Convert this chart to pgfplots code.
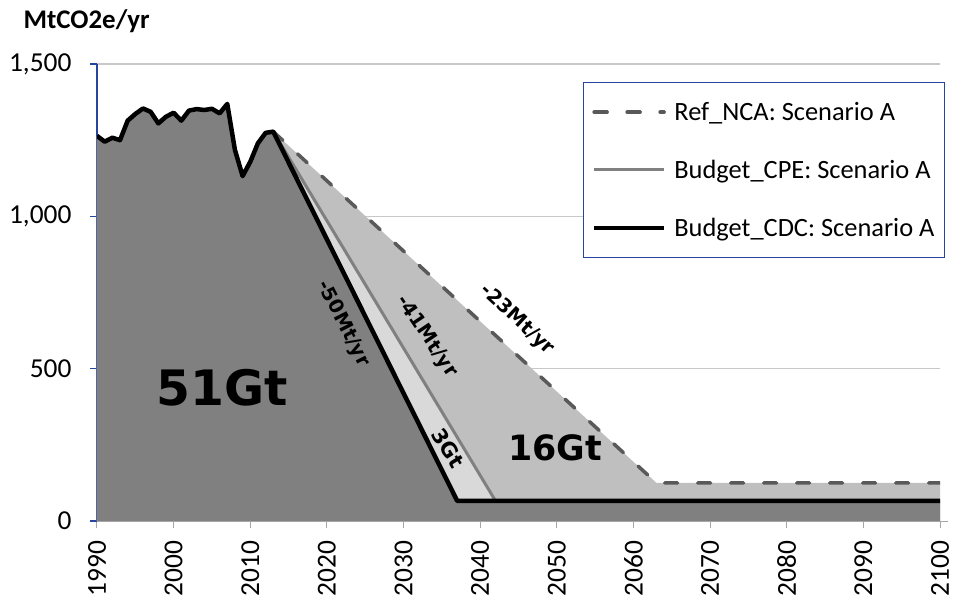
\documentclass[border=0pt]{standalone}
\usepackage{fontspec}
\setmainfont{Carlito}
\newfontfamily\dv{DejaVu Sans}
\usepackage{pgfplots}
\pgfplotsset{compat=1.18}
\definecolor{axblue}{RGB}{38,68,160}
\definecolor{refc}{RGB}{89,89,89}
\definecolor{cpec}{RGB}{128,128,128}
\definecolor{darkf}{RGB}{128,128,128}
\definecolor{lightf}{RGB}{217,217,217}
\definecolor{midf}{RGB}{191,191,191}
\definecolor{gridc}{RGB}{200,200,200}
\begin{document}
\begin{tikzpicture}
\begin{axis}[
 scale only axis, width=843bp, height=457bp,
 xmin=1990, xmax=2100, ymin=0, ymax=1500,
 axis x line*=bottom, axis y line*=left,
 x axis line style={draw=gray!70, line width=1bp, shorten >=-8bp},
 y axis line style={draw=axblue, line width=1.2bp},
 xtick={1990,2000,...,2100}, ytick={0,500,1000,1500},
 tick align=outside, major tick length=7bp,
 xtick style={draw=gray!70, line width=1bp},
 ytick style={draw=axblue, line width=1.2bp},
 ymajorgrids, grid style={draw=gridc, line width=1.2bp},
 tick label style={font=\fontsize{27.5}{32}\selectfont, /pgf/number format/assume math mode=true},
 yticklabel style={xshift=-15bp, /pgf/number format/.cd, 1000 sep={,}},
 xticklabel style={yshift=-9bp, rotate=90, anchor=east, /pgf/number format/1000 sep=},
 legend style={at={(1.006,0.961)}, anchor=north east, draw=axblue, line width=1.2bp, fill=white,
   font=\fontsize{26.5}{30}\selectfont, inner xsep=8bp, inner ysep=18bp, row sep=34bp},
 legend cell align=left,
 legend image code/.code={\draw[#1] (0bp,0bp) -- (70bp,0bp); \path (76bp,0bp);},
]
% fills
\addplot[fill=midf, draw=none, forget plot] coordinates {
(1990,1264) (1991,1245) (1992,1258) (1993,1250) (1994,1314) (1995,1336) (1996,1354) (1997,1343)
(1998,1305) (1999,1327) (2000,1340) (2001,1314) (2002,1347) (2003,1352) (2004,1349) (2005,1353)
(2006,1338) (2007,1369) (2008,1218) (2009,1132) (2010,1179) (2011,1240) (2012,1274) (2013,1278)
(2063,125) (2100,125)} \closedcycle;
\addplot[fill=lightf, draw=none, forget plot] coordinates {
(1990,1264) (1991,1245) (1992,1258) (1993,1250) (1994,1314) (1995,1336) (1996,1354) (1997,1343)
(1998,1305) (1999,1327) (2000,1340) (2001,1314) (2002,1347) (2003,1352) (2004,1349) (2005,1353)
(2006,1338) (2007,1369) (2008,1218) (2009,1132) (2010,1179) (2011,1240) (2012,1274) (2013,1278)
(2042,66) (2100,66)} \closedcycle;
\addplot[fill=darkf, draw=none, forget plot] coordinates {
(1990,1264) (1991,1245) (1992,1258) (1993,1250) (1994,1314) (1995,1336) (1996,1354) (1997,1343)
(1998,1305) (1999,1327) (2000,1340) (2001,1314) (2002,1347) (2003,1352) (2004,1349) (2005,1353)
(2006,1338) (2007,1369) (2008,1218) (2009,1132) (2010,1179) (2011,1240) (2012,1274) (2013,1278)
(2037,66) (2100,66)} \closedcycle;
% lines
\addplot[refc, line width=3.5bp, line cap=round, dash pattern=on 13bp off 20bp] coordinates {
(2013,1278) (2063,125) (2100,125)};
\addlegendentry{Ref\_NCA: Scenario A}
\addplot[cpec, line width=3bp, line join=round] coordinates {
(2013,1278) (2042,66)};
\addlegendentry{Budget\_CPE: Scenario A}
\addplot[black, line width=4.5bp, line join=round] coordinates {
(1990,1264) (1991,1245) (1992,1258) (1993,1250) (1994,1314) (1995,1336) (1996,1354) (1997,1343)
(1998,1305) (1999,1327) (2000,1340) (2001,1314) (2002,1347) (2003,1352) (2004,1349) (2005,1353)
(2006,1338) (2007,1369) (2008,1218) (2009,1132) (2010,1179) (2011,1240) (2012,1274) (2013,1278)
(2037,66) (2100,66)};
\addlegendentry{Budget\_CDC: Scenario A}
% annotations
\node[font=\dv\bfseries\fontsize{49}{52}\selectfont] at (axis cs:2006.3,437) {51Gt};
\node[font=\dv\bfseries\fontsize{35}{38}\selectfont] at (axis cs:2049.8,240) {16Gt};
\node[font=\dv\bfseries\fontsize{21}{24}\selectfont, rotate=-58, inner sep=0pt] at (axis cs:2035.8,240) {3Gt};
\node[font=\dv\bfseries\fontsize{19.5}{22}\selectfont, rotate=-63, inner sep=0pt] at (axis cs:2022.1,647) {-50Mt/yr};
\node[font=\dv\bfseries\fontsize{19.5}{22}\selectfont, rotate=-56, inner sep=0pt] at (axis cs:2033.0,605) {-41Mt/yr};
\node[font=\dv\bfseries\fontsize{19.5}{22}\selectfont, rotate=-43, inner sep=0pt] at (axis cs:2044.8,660) {-23Mt/yr};
\coordinate (bl) at (rel axis cs:0,0);
\coordinate (tr) at (rel axis cs:1,1);
\coordinate (tl) at (rel axis cs:0,1);
\end{axis}
\node[anchor=base west, font=\bfseries\fontsize{27}{30}\selectfont] at ([shift={(-77bp,35bp)}]tl) {MtCO2e/yr};
\pgfresetboundingbox
\path[use as bounding box] ([shift={(-97bp,-80bp)}]bl) rectangle ([shift={(16bp,64bp)}]tr);
\end{tikzpicture}
\end{document}
